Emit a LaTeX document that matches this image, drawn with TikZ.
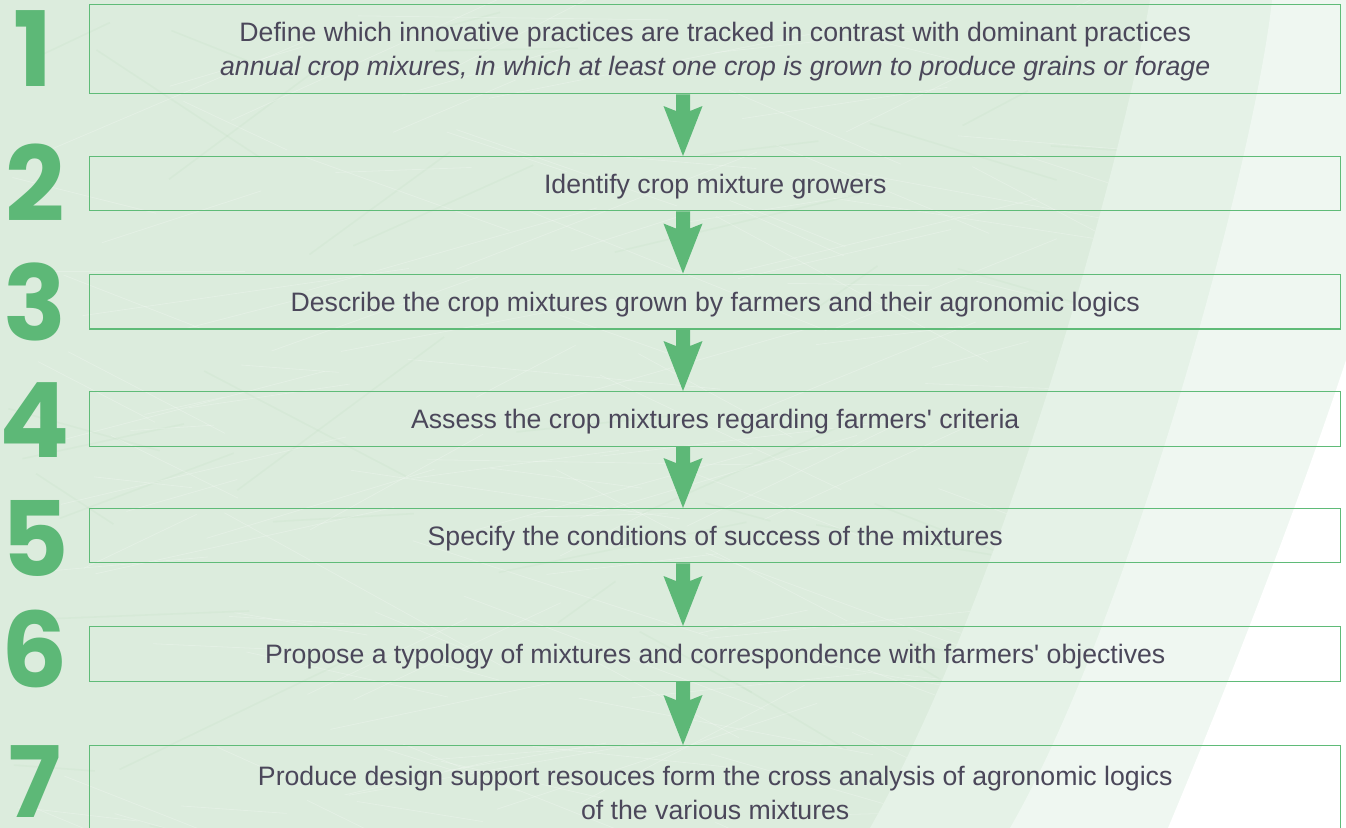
\documentclass[tikz,border=0pt]{standalone}
\usepackage{fontspec}
\setmainfont{Liberation Sans}
\newfontfamily\numfont{Poppins}
\usetikzlibrary{calc}
\definecolor{bggreen}{HTML}{DCECDD}
\definecolor{bandone}{HTML}{E5F2E7}
\definecolor{bandtwo}{HTML}{EFF7F1}
\definecolor{boxgreen}{HTML}{5FBB78}
\definecolor{numgreen}{HTML}{5DB877}
\definecolor{txtcol}{HTML}{4B475A}
\newcommand{\steparrow}[2]{%
  \fill[numgreen] let \p1=(#1.south), \p2=(#2.north) in
    (507pt,\y1) -- (517.5pt,\y1) -- (517.5pt,\y2+33.75pt) -- (526.9pt,\y2+37.5pt)
    -- (512.25pt,\y2) -- (497.6pt,\y2+37.5pt) -- (507pt,\y2+33.75pt) -- cycle;}
\begin{document}
\begin{tikzpicture}[x=0.75pt,y=-0.75pt,
  stepbox/.style={draw=boxgreen, line width=1.1pt, minimum width=938.25pt,
    align=center, text=txtcol, font=\fontsize{20}{25.5}\selectfont,
    inner sep=0pt, text depth=0pt, anchor=north west},
  stepnum/.style={text=numgreen, font=\numfont\bfseries\fontsize{78}{78}\selectfont,
    inner sep=0pt, anchor=center}]
\useasboundingbox (0,0) rectangle (1346,828);
\clip (0,0) rectangle (1346,828);
% background
\fill[bggreen] (0,0) rectangle (1346,828);
\begin{scope}
  \clip (0,0) -- (1150,0) .. controls (1120,170) and (1000,600) .. (870,828) -- (0,828) -- cycle;
  \pgfmathsetseed{12}
  \foreach \i in {1,...,160}{
    \pgfmathsetmacro\sx{rnd*1150}
    \pgfmathsetmacro\sy{rnd*828}
    \pgfmathsetmacro\ang{-30+rnd*60}
    \pgfmathsetmacro\len{80+rnd*260}
    \draw[white, opacity=0.22, line width=0.6pt] (\sx,\sy) -- ++(\ang:\len);
  }
  \foreach \i in {1,...,40}{
    \pgfmathsetmacro\sx{rnd*1150}
    \pgfmathsetmacro\sy{rnd*828}
    \pgfmathsetmacro\ang{-40+rnd*80}
    \pgfmathsetmacro\len{60+rnd*200}
    \draw[green!30!gray, opacity=0.04, line width=1.2pt] (\sx,\sy) -- ++(\ang:\len);
  }
\end{scope}
\fill[bandone] (1150,0) .. controls (1120,170) and (1000,600) .. (870,828) -- (1346,828) -- (1346,0) -- cycle;
\fill[bandtwo] (1272,0) .. controls (1255,160) and (1130,620) .. (1010,828) -- (1346,828) -- (1346,0) -- cycle;
\fill[white] (1346,360) .. controls (1300,500) and (1230,680) .. (1168,828) -- (1346,828) -- cycle;
% boxes
\node[stepbox, minimum height=66.75pt] (b1) at (89,4)
  {Define which innovative practices are tracked in contrast with dominant practices\\
   \itshape annual crop mixures, in which at least one crop is grown to produce grains or forage};
\node[stepbox, minimum height=40.5pt] (b2) at (89,156) {Identify crop mixture growers};
\node[stepbox, minimum height=40.9pt] (b3) at (89,273.5) {Describe the crop mixtures grown by farmers and their agronomic logics};
\node[stepbox, minimum height=40.9pt] (b4) at (89,391) {Assess the crop mixtures regarding farmers\textquotesingle{} criteria};
\node[stepbox, minimum height=40.5pt] (b5) at (89,508) {Specify the conditions of success of the mixtures};
\node[stepbox, minimum height=41pt] (b6) at (89,626) {Propose a typology of mixtures and correspondence with farmers\textquotesingle{} objectives};
\node[stepbox, minimum height=70.5pt] (b7) at (89,745)
  {Produce design support resouces form the cross analysis of agronomic logics\\
   of the various mixtures};
% arrows
\steparrow{b1}{b2}
\steparrow{b2}{b3}
\steparrow{b3}{b4}
\steparrow{b4}{b5}
\steparrow{b5}{b6}
\steparrow{b6}{b7}
% numbers
\node[stepnum] (n1) at (33,49) {1};
\node[stepnum] (n2) at (35,183) {2};
\node[stepnum] (n3) at (35,302) {3};
\node[stepnum] (n4) at (35,420) {4};
\node[stepnum] (n5) at (35,538) {5};
\node[stepnum] (n6) at (35,649) {6};
\node[stepnum, font=\numfont\bfseries\fontsize{74}{74}\selectfont] (n7) at (35,782) {7};
\end{tikzpicture}
\end{document}
